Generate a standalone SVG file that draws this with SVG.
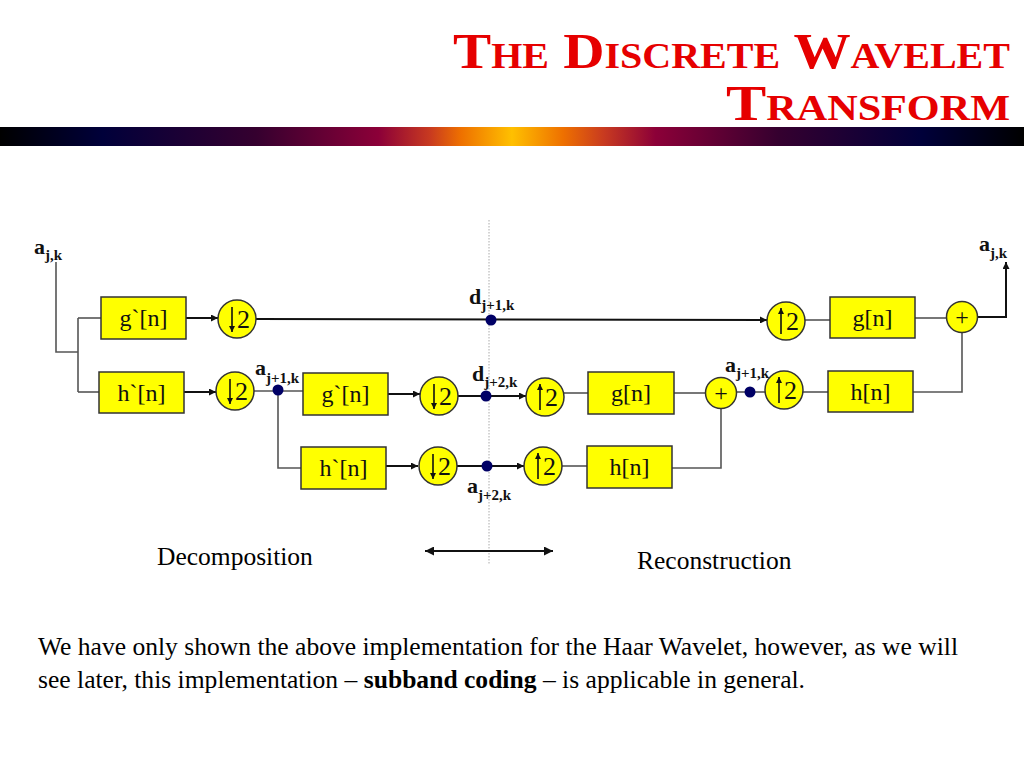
<svg xmlns="http://www.w3.org/2000/svg" width="1024" height="768" viewBox="0 0 1024 768" font-family="'Liberation Serif', 'Times New Roman', Times, serif">
<defs>
<linearGradient id="bar" x1="0" y1="0" x2="1" y2="0">
<stop offset="0" stop-color="#000000"/>
<stop offset="0.1" stop-color="#00003a"/>
<stop offset="0.25" stop-color="#35002f"/>
<stop offset="0.37" stop-color="#8c0038"/>
<stop offset="0.42" stop-color="#c83a20"/>
<stop offset="0.45" stop-color="#ee7000"/>
<stop offset="0.5" stop-color="#ffc000"/>
<stop offset="0.55" stop-color="#ee7000"/>
<stop offset="0.59" stop-color="#c83a20"/>
<stop offset="0.64" stop-color="#8c0038"/>
<stop offset="0.76" stop-color="#35002f"/>
<stop offset="0.9" stop-color="#00003a"/>
<stop offset="1" stop-color="#000000"/>
</linearGradient>
<marker id="ah" viewBox="0 0 10 10" refX="10" refY="5" markerWidth="7" markerHeight="7" markerUnits="userSpaceOnUse" orient="auto">
<path d="M0,0 L10,5 L0,10 z" fill="#111"/>
</marker>
<marker id="ah2" viewBox="0 0 10 10" refX="10" refY="5" markerWidth="9" markerHeight="9" markerUnits="userSpaceOnUse" orient="auto-start-reverse">
<path d="M0,0 L10,5 L0,10 z" fill="#111"/>
</marker>
<marker id="sa" viewBox="0 0 10 10" refX="10" refY="5" markerWidth="7" markerHeight="6" markerUnits="userSpaceOnUse" orient="auto">
<path d="M0,0 L10,5 L0,10 z" fill="#111"/>
</marker>
</defs>
<style>
.box{fill:#ffff00;stroke:#333;stroke-width:1.5}
.circ{fill:#ffff00;stroke:#333;stroke-width:1.5}
.bt{font-family:'Liberation Serif','Times New Roman',Times,serif;font-size:24px;fill:#111;text-anchor:middle}
.two{font-family:'Liberation Serif','Times New Roman',Times,serif;font-size:26px;fill:#111}
.sym{stroke:#111;stroke-width:1.6;fill:none;marker-end:url(#sa)}
.lab{font-family:'Liberation Serif','Times New Roman',Times,serif;font-weight:bold;font-size:22px;fill:#111}
.sub{font-size:15px}
.arr{stroke:#111;stroke-width:2;fill:none;marker-end:url(#ah)}
.ln{stroke:#555;stroke-width:1.6;fill:none}
.dot{fill:#000066}
.title{font-family:'Liberation Serif','Times New Roman',Times,serif;font-weight:bold;font-variant:small-caps;font-size:50px;fill:#e60000;text-anchor:end}
.body{font-family:'Liberation Serif','Times New Roman',Times,serif;font-size:25.5px;fill:#000}
</style>
<rect width="1024" height="768" fill="#fff"/>
<g id="title">
<text class="title" x="1010" y="68" textLength="557" lengthAdjust="spacingAndGlyphs">The Discrete Wavelet</text>
<text class="title" x="1010" y="120" textLength="284" lengthAdjust="spacingAndGlyphs">Transform</text>
</g>
<rect id="bar" x="0" y="127" width="1024" height="19" fill="url(#bar)"/>
<line x1="489" y1="220" x2="489" y2="565" stroke="#aaa" stroke-width="1" stroke-dasharray="1.5,1.5"/>
<g id="connectors">
<polyline class="ln" points="56,262 56,352 78,352"/>
<line class="ln" x1="78" y1="318" x2="78" y2="392"/>
<line class="ln" x1="78" y1="318" x2="101" y2="318"/>
<line class="ln" x1="78" y1="392" x2="99" y2="392"/>
<line class="arr" x1="186" y1="318" x2="218" y2="318"/>
<line class="arr" x1="184" y1="392" x2="216" y2="392"/>
<line class="arr" x1="256" y1="319" x2="767" y2="320"/>
<line class="ln" x1="254" y1="391" x2="303" y2="391"/>
<polyline class="ln" points="278,391 278,468 301,468"/>
<line class="arr" x1="388" y1="394" x2="420" y2="394"/>
<line class="arr" x1="386" y1="466" x2="418" y2="466"/>
<line class="arr" x1="458" y1="396" x2="526" y2="396"/>
<line class="arr" x1="457" y1="466" x2="524" y2="466"/>
<line class="ln" x1="564" y1="393" x2="588" y2="393"/>
<line class="ln" x1="562" y1="466" x2="587" y2="466"/>
<line class="ln" x1="674" y1="393" x2="706" y2="393"/>
<polyline class="ln" points="672,468 721,468 721,408"/>
<line class="ln" x1="736" y1="392" x2="765" y2="392"/>
<line class="ln" x1="803" y1="392" x2="828" y2="392"/>
<polyline class="ln" points="913,392 962,392 962,332"/>
<line class="ln" x1="805" y1="320" x2="830" y2="320"/>
<line class="ln" x1="915" y1="318" x2="947" y2="318"/>
<polyline class="arr" points="977,317 1006,317 1006,262"/>
<line stroke="#111" stroke-width="2" x1="425" y1="551" x2="553" y2="551" marker-start="url(#ah2)" marker-end="url(#ah2)"/>
</g>
<g id="node-g1"><rect class="box" x="101" y="297" width="85" height="42"/><text class="bt" x="143.5" y="326">g`[n]</text></g>
<g id="node-h1"><rect class="box" x="99" y="372" width="85" height="41"/><text class="bt" x="141.5" y="401">h`[n]</text></g>
<g id="node-d1"><circle class="circ" cx="237" cy="319" r="19"/><path class="sym" d="M232,307 V332"/><text class="two" x="237" y="328">2</text></g>
<g id="node-d2"><circle class="circ" cx="235" cy="391" r="19"/><path class="sym" d="M230,379 V404"/><text class="two" x="235" y="400">2</text></g>
<g id="node-g2"><rect class="box" x="303" y="373" width="85" height="42"/><text class="bt" x="345.5" y="402">g`[n]</text></g>
<g id="node-h2"><rect class="box" x="301" y="447" width="85" height="42"/><text class="bt" x="343.5" y="476">h`[n]</text></g>
<g id="node-d3"><circle class="circ" cx="439" cy="396" r="19"/><path class="sym" d="M434,384 V409"/><text class="two" x="439" y="405">2</text></g>
<g id="node-d4"><circle class="circ" cx="438" cy="466" r="19"/><path class="sym" d="M433,454 V479"/><text class="two" x="438" y="475">2</text></g>
<g id="node-u1"><circle class="circ" cx="545" cy="397" r="19"/><path class="sym" d="M540,410 V384"/><text class="two" x="545" y="406">2</text></g>
<g id="node-u2"><circle class="circ" cx="543" cy="466" r="19"/><path class="sym" d="M538,479 V453"/><text class="two" x="543" y="475">2</text></g>
<g id="node-g3"><rect class="box" x="588" y="372" width="86" height="42"/><text class="bt" x="631" y="401">g[n]</text></g>
<g id="node-h3"><rect class="box" x="587" y="446" width="85" height="42"/><text class="bt" x="629.5" y="475">h[n]</text></g>
<g id="node-p1"><circle class="circ" cx="721" cy="393" r="15.5"/><text class="bt" x="721" y="401">+</text></g>
<g id="node-u3"><circle class="circ" cx="784" cy="390" r="19"/><path class="sym" d="M779,403 V377"/><text class="two" x="784" y="399">2</text></g>
<g id="node-h4"><rect class="box" x="828" y="371" width="85" height="41"/><text class="bt" x="870.5" y="400">h[n]</text></g>
<g id="node-u4"><circle class="circ" cx="786" cy="321" r="19"/><path class="sym" d="M781,334 V308"/><text class="two" x="786" y="330">2</text></g>
<g id="node-g4"><rect class="box" x="830" y="297" width="85" height="41"/><text class="bt" x="872.5" y="326">g[n]</text></g>
<g id="node-p2"><circle class="circ" cx="962" cy="317" r="15.5"/><text class="bt" x="962" y="325">+</text></g>
<g id="dots">
<circle class="dot" cx="491" cy="320" r="5.5"/>
<circle class="dot" cx="278" cy="390" r="5.5"/>
<circle class="dot" cx="486" cy="396" r="5.5"/>
<circle class="dot" cx="487" cy="466" r="5.5"/>
<circle class="dot" cx="750" cy="392" r="5.5"/>
</g>
<g id="labels">
<text class="lab" x="34" y="254" font-size="24">a<tspan class="sub" dy="6">j,k</tspan></text>
<text class="lab" x="979" y="251">a<tspan class="sub" dy="7">j,k</tspan></text>
<text class="lab" x="469" y="304">d<tspan class="sub" dy="6">j+1,k</tspan></text>
<text class="lab" x="255" y="375">a<tspan class="sub" dy="8">j+1,k</tspan></text>
<text class="lab" x="472" y="381">d<tspan class="sub" dy="6">j+2,k</tspan></text>
<text class="lab" x="467" y="493">a<tspan class="sub" dy="7">j+2,k</tspan></text>
<text class="lab" x="725" y="372">a<tspan class="sub" dy="6">j+1,k</tspan></text>
</g>
<g id="captions">
<text class="body" x="157" y="565">Decomposition</text>
<text class="body" x="637" y="569">Reconstruction</text>
<text class="body" x="38" y="655" textLength="920" lengthAdjust="spacingAndGlyphs">We have only shown the above implementation for the Haar Wavelet, however, as we will</text>
<text class="body" x="38" y="688" textLength="767" lengthAdjust="spacingAndGlyphs">see later, this implementation – <tspan font-weight="bold">subband coding</tspan> – is applicable in general.</text>
</g>
</svg>
